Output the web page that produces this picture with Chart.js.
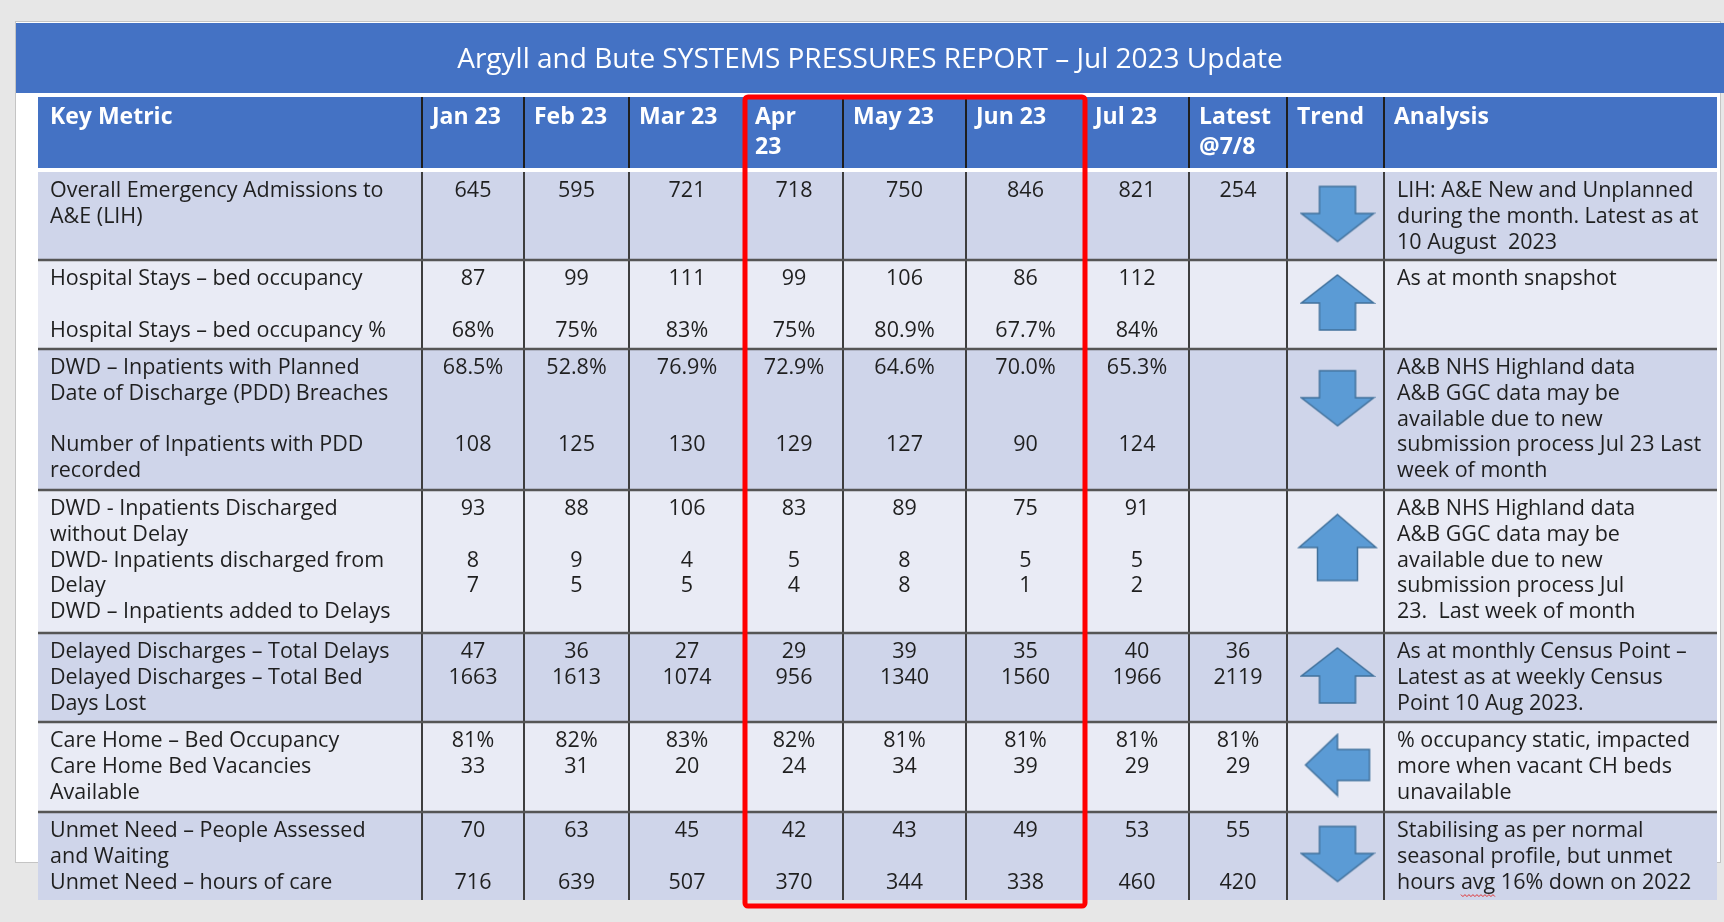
<!DOCTYPE html>
<html>
<head>
<meta charset="utf-8">
<script src="https://cdn.jsdelivr.net/npm/chart.js@4.4.0/dist/chart.umd.min.js"></script>
<style>
  html, body { margin: 0; padding: 0; background: #e7e7e7; overflow: hidden; }
  canvas { display: block; }
</style>
</head>
<body>
<canvas id="pressureTable" width="1724" height="922"></canvas>
<script>
var title = 'Argyll and Bute SYSTEMS PRESSURES REPORT \u2013 Jul 2023 Update';
var headers = ['Key Metric', 'Jan 23', 'Feb 23', 'Mar 23', 'Apr\n23', 'May 23', 'Jun 23', 'Jul 23', 'Latest\n@7/8', 'Trend', 'Analysis'];

// month columns: Jan 23 .. Jul 23, then Latest @7/8
var aeAdmissions        = [645, 595, 721, 718, 750, 846, 821, 254];
var bedOccupancy        = [87, 99, 111, 99, 106, 86, 112, null];
var bedOccupancyPct     = [68, 75, 83, 75, 80.9, 67.7, 84, null];
var pddBreachesPct      = [68.5, 52.8, 76.9, 72.9, 64.6, 70.0, 65.3, null];
var pddRecorded         = [108, 125, 130, 129, 127, 90, 124, null];
var dischargedNoDelay   = [93, 88, 106, 83, 89, 75, 91, null];
var dischargedFromDelay = [8, 9, 4, 5, 8, 5, 5, null];
var addedToDelays       = [7, 5, 5, 4, 8, 1, 2, null];
var totalDelays         = [47, 36, 27, 29, 39, 35, 40, 36];
var bedDaysLost         = [1663, 1613, 1074, 956, 1340, 1560, 1966, 2119];
var careHomeOccPct      = [81, 82, 83, 82, 81, 81, 81, 81];
var careHomeVacancies   = [33, 31, 20, 24, 34, 39, 29, 29];
var unmetPeople         = [70, 63, 45, 42, 43, 49, 53, 55];
var unmetHours          = [716, 639, 507, 370, 344, 338, 460, 420];

var trends = ['down', 'up', 'down', 'up', 'up', 'left', 'down'];

var metricText = [
  ['Overall Emergency Admissions to', 'A&E (LIH)'],
  ['Hospital Stays \u2013 bed occupancy', '', 'Hospital Stays \u2013 bed occupancy %'],
  ['DWD \u2013 Inpatients with Planned', 'Date of Discharge (PDD) Breaches', '', 'Number of Inpatients with PDD', 'recorded'],
  ['DWD - Inpatients Discharged', 'without Delay', 'DWD- Inpatients discharged from', 'Delay', 'DWD \u2013 Inpatients added to Delays'],
  ['Delayed Discharges \u2013 Total Delays', 'Delayed Discharges \u2013 Total Bed', 'Days Lost'],
  ['Care Home \u2013 Bed Occupancy', 'Care Home Bed Vacancies', 'Available'],
  ['Unmet Need \u2013 People Assessed', 'and Waiting', 'Unmet Need \u2013 hours of care']
];

var analysisText = [
  ['LIH: A&E New and Unplanned', 'during the month. Latest as at', '10 August  2023'],
  ['As at month snapshot'],
  ['A&B NHS Highland data', 'A&B GGC data may be', 'available due to new', 'submission process Jul 23 Last', 'week of month'],
  ['A&B NHS Highland data', 'A&B GGC data may be', 'available due to new', 'submission process Jul', '23.  Last week of month'],
  ['As at monthly Census Point \u2013', 'Latest as at weekly Census', 'Point 10 Aug 2023.'],
  ['% occupancy static, impacted', 'more when vacant CH beds', 'unavailable'],
  ['Stabilising as per normal', 'seasonal profile, but unmet', 'hours avg 16% down on 2022']
];

// which series sit in which row, and on which text line
var rowSeries = [
  [{ v: aeAdmissions, line: 0 }],
  [{ v: bedOccupancy, line: 0 }, { v: bedOccupancyPct, line: 2, pct: true }],
  [{ v: pddBreachesPct, line: 0, pct: true, dp: 1 }, { v: pddRecorded, line: 3 }],
  [{ v: dischargedNoDelay, line: 0 }, { v: dischargedFromDelay, line: 2 }, { v: addedToDelays, line: 3 }],
  [{ v: totalDelays, line: 0 }, { v: bedDaysLost, line: 1 }],
  [{ v: careHomeOccPct, line: 0, pct: true }, { v: careHomeVacancies, line: 1 }],
  [{ v: unmetPeople, line: 0 }, { v: unmetHours, line: 2 }]
];

// ---- layout ----
var FONT = '"Open Sans", Lato, sans-serif';
var colEdges = [38, 422, 524, 629, 745, 843, 966, 1085, 1189, 1287, 1384, 1717];
var rowEdges = [172, 260, 349, 490, 633, 722, 812, 900];
var LINE_H = 25.8, FIRST_BASE = 25, PAD_L = 12;
var arrowBox = { w: 72, h: 55, shaft: 36, head: 28 };
var arrowBig = { w: 77, h: 66, shaft: 40, head: 33 };
var arrowLeft = { w: 61, h: 64, shaft: 31, head: 32 };

function colCenter(c) { return (colEdges[c] + colEdges[c + 1]) / 2; }
function lineY(r, line) { return rowEdges[r] + FIRST_BASE + line * LINE_H; }
function fmt(v, s) {
  var t = s.dp ? v.toFixed(s.dp) : String(v);
  return s.pct ? t + '%' : t;
}

function makeArrow(b) {
  var c = document.createElement('canvas');
  c.width = b.w + 4; c.height = b.h + 4;
  var g = c.getContext('2d');
  var cx = c.width / 2, top = 2, bot = b.h + 2;
  g.beginPath();
  g.moveTo(cx, top);
  g.lineTo(cx + b.w / 2, top + b.head);
  g.lineTo(cx + b.shaft / 2, top + b.head);
  g.lineTo(cx + b.shaft / 2, bot);
  g.lineTo(cx - b.shaft / 2, bot);
  g.lineTo(cx - b.shaft / 2, top + b.head);
  g.lineTo(cx - b.w / 2, top + b.head);
  g.closePath();
  g.fillStyle = '#5B9BD5';
  g.fill();
  g.strokeStyle = '#41719C';
  g.lineWidth = 1.5;
  g.stroke();
  return c;
}

var datasets = [];
rowSeries.forEach(function (list, r) {
  list.forEach(function (s) {
    var pts = [];
    s.v.forEach(function (v, i) {
      if (v !== null) pts.push({ x: colCenter(i + 1), y: lineY(r, s.line), label: fmt(v, s) });
    });
    datasets.push({ data: pts, pointRadius: 0, isValue: true });
  });
});

var arrowStyles = trends.map(function (t, r) {
  return makeArrow(t === 'left' ? arrowLeft : (r === 3 ? arrowBig : arrowBox));
});
datasets.push({
  data: trends.map(function (t, r) {
    var bx = t === 'left' ? arrowLeft : (r === 3 ? arrowBig : arrowBox);
    var mid = (rowEdges[r] + rowEdges[r + 1]) / 2;
    return { x: colCenter(9) + 2, y: Math.min(mid - 2, rowEdges[r] + 8 + bx.h * 0.75) };
  }),
  pointStyle: arrowStyles,
  pointRadius: 3,
  pointRotation: trends.map(function (t) { return t === 'down' ? 180 : (t === 'left' ? -90 : 0); })
});

function box(ctx, xs, ys, x0, y0, x1, y1, fill) {
  var a = xs.getPixelForValue(x0), b = ys.getPixelForValue(y0);
  var c = xs.getPixelForValue(x1), d = ys.getPixelForValue(y1);
  ctx.fillStyle = fill;
  ctx.fillRect(a, b, c - a, d - b);
}
function seg(ctx, xs, ys, x0, y0, x1, y1) {
  ctx.beginPath();
  ctx.moveTo(xs.getPixelForValue(x0), ys.getPixelForValue(y0));
  ctx.lineTo(xs.getPixelForValue(x1), ys.getPixelForValue(y1));
  ctx.stroke();
}

var tablePlugin = {
  id: 'tablePlugin',
  beforeDatasetsDraw: function (chart) {
    var ctx = chart.ctx, xs = chart.scales.x, ys = chart.scales.y;
    ctx.save();
    box(ctx, xs, ys, 0, 0, 1724, 922, '#e7e7e7');
    // slide panel
    box(ctx, xs, ys, 15, 21, 1720, 862, '#ffffff');
    ctx.strokeStyle = '#c4c4c4'; ctx.lineWidth = 1;
    ctx.strokeRect(xs.getPixelForValue(15) + 0.5, ys.getPixelForValue(21) + 0.5, 1705, 841);
    // title bar
    box(ctx, xs, ys, 16, 23, 1724, 93, '#4472C4');
    ctx.fillStyle = '#ffffff';
    ctx.font = '28px ' + FONT;
    ctx.textAlign = 'center'; ctx.textBaseline = 'alphabetic';
    ctx.fillText(title, xs.getPixelForValue(870), ys.getPixelForValue(68));
    // header
    box(ctx, xs, ys, colEdges[0], 97, colEdges[colEdges.length - 1], 168, '#4472C4');
    ctx.fillStyle = '#ffffff';
    ctx.font = 'bold 23px ' + FONT;
    ctx.textAlign = 'left';
    headers.forEach(function (h, c) {
      h.split('\n').forEach(function (t, k) {
        ctx.fillText(t, xs.getPixelForValue(colEdges[c] + (c === 0 ? PAD_L : 10)), ys.getPixelForValue(124 + k * 30));
      });
    });
    // rows
    for (var r = 0; r < rowEdges.length - 1; r++) {
      box(ctx, xs, ys, colEdges[0], rowEdges[r], colEdges[colEdges.length - 1], rowEdges[r + 1], r % 2 === 0 ? '#CFD5EA' : '#E9EBF5');
    }
    // vertical lines
    ctx.lineWidth = 2;
    for (var c = 1; c < colEdges.length - 1; c++) {
      ctx.strokeStyle = '#1e1e1e';
      seg(ctx, xs, ys, colEdges[c], 97, colEdges[c], 168);
      ctx.strokeStyle = '#3e3e3e';
      seg(ctx, xs, ys, colEdges[c], 172, colEdges[c], 900);
    }
    // horizontal lines
    ctx.strokeStyle = '#555555'; ctx.lineWidth = 2.5;
    for (var r2 = 1; r2 < rowEdges.length - 1; r2++) {
      seg(ctx, xs, ys, colEdges[0], rowEdges[r2], colEdges[colEdges.length - 1], rowEdges[r2]);
    }
    // metric and analysis text
    ctx.fillStyle = '#1f1f1f';
    ctx.font = '21.5px ' + FONT;
    ctx.textAlign = 'left';
    metricText.forEach(function (lines, r) {
      lines.forEach(function (t, k) {
        ctx.fillText(t, xs.getPixelForValue(colEdges[0] + PAD_L), ys.getPixelForValue(lineY(r, k)));
      });
    });
    analysisText.forEach(function (lines, r) {
      lines.forEach(function (t, k) {
        ctx.fillText(t, xs.getPixelForValue(colEdges[10] + 13), ys.getPixelForValue(lineY(r, k)));
      });
    });
    // spell-check squiggle under "avg"
    var last = analysisText.length - 1, lineIdx = 2;
    var sx = xs.getPixelForValue(colEdges[10] + 13) + ctx.measureText('hours ').width;
    var sw = ctx.measureText('avg').width;
    var sy = ys.getPixelForValue(lineY(last, lineIdx)) + 6;
    ctx.strokeStyle = '#e03030'; ctx.lineWidth = 1;
    ctx.beginPath();
    for (var i = 0; i <= sw; i += 2) {
      var yy = sy + ((i / 2) % 2 === 0 ? 0 : 2);
      if (i === 0) ctx.moveTo(sx + i, yy); else ctx.lineTo(sx + i, yy);
    }
    ctx.stroke();
    ctx.restore();
  },
  afterDatasetsDraw: function (chart) {
    var ctx = chart.ctx;
    ctx.save();
    ctx.fillStyle = '#1f1f1f';
    ctx.font = '21.5px ' + FONT;
    ctx.textAlign = 'center'; ctx.textBaseline = 'alphabetic';
    chart.data.datasets.forEach(function (ds, di) {
      if (!ds.isValue) return;
      chart.getDatasetMeta(di).data.forEach(function (el, i) {
        ctx.fillText(ds.data[i].label, el.x, el.y);
      });
    });
    ctx.restore();
  },
  afterDraw: function (chart) {
    var ctx = chart.ctx, xs = chart.scales.x, ys = chart.scales.y;
    // red highlight round Apr - Jun
    var a = xs.getPixelForValue(colEdges[4]), b = ys.getPixelForValue(97);
    var c = xs.getPixelForValue(colEdges[7]), d = ys.getPixelForValue(906);
    ctx.save();
    ctx.strokeStyle = '#ff0000'; ctx.lineWidth = 5;
    ctx.beginPath();
    ctx.roundRect(a, b, c - a, d - b, 3);
    ctx.stroke();
    ctx.restore();
  }
};

new Chart(document.getElementById('pressureTable').getContext('2d'), {
  type: 'scatter',
  data: { datasets: datasets },
  options: {
    responsive: false,
    animation: false,
    events: [],
    layout: { padding: 0, autoPadding: false },
    plugins: { legend: { display: false }, tooltip: { enabled: false } },
    scales: {
      x: { type: 'linear', min: 0, max: 1724, display: false },
      y: { type: 'linear', min: 0, max: 922, reverse: true, display: false }
    }
  },
  plugins: [tablePlugin]
});
</script>
</body>
</html>
